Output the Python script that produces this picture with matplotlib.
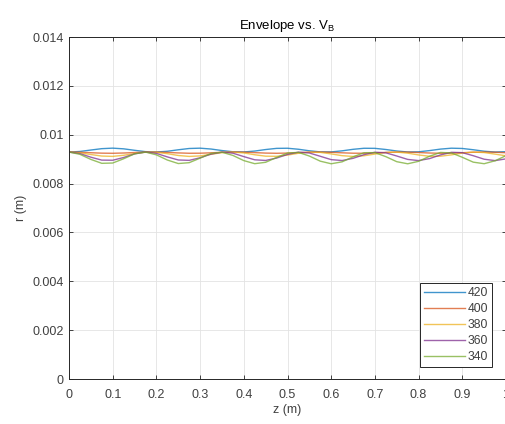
import matplotlib
matplotlib.use("Agg")
import matplotlib.pyplot as plt
from matplotlib.ticker import FormatStrFormatter, MultipleLocator

plt.rcParams["font.family"] = ["Liberation Sans", "DejaVu Sans"]

# ── Data ──────────────────────────────────────────────────────────────── #

z = [0.0, 0.025, 0.05, 0.075, 0.1, 0.125, 0.15, 0.175, 0.2, 0.225,
     0.25, 0.275, 0.3, 0.325, 0.35, 0.375, 0.4, 0.425, 0.45, 0.475,
     0.5, 0.525, 0.55, 0.575, 0.6, 0.625, 0.65, 0.675, 0.7, 0.725,
     0.75, 0.775, 0.8, 0.825, 0.85, 0.875, 0.9, 0.925, 0.95, 0.975, 1.0]

r_420 = [0.009290, 0.009314, 0.009373, 0.009429, 0.009450, 0.009422, 0.009362,
         0.009307, 0.009291, 0.009322, 0.009383, 0.009436, 0.009449, 0.009414,
         0.009352, 0.009302, 0.009293, 0.009331, 0.009393, 0.009441, 0.009446,
         0.009405, 0.009342, 0.009297, 0.009296, 0.009340, 0.009402, 0.009445,
         0.009442, 0.009395, 0.009333, 0.009293, 0.009300, 0.009350, 0.009411,
         0.009448, 0.009437, 0.009385, 0.009324, 0.009291, 0.009306]

r_400 = [0.009290, 0.009282, 0.009263, 0.009245, 0.009240, 0.009251, 0.009271,
         0.009287, 0.009289, 0.009275, 0.009255, 0.009241, 0.009243, 0.009259,
         0.009279, 0.009290, 0.009285, 0.009267, 0.009248, 0.009240, 0.009248,
         0.009267, 0.009285, 0.009290, 0.009279, 0.009259, 0.009243, 0.009241,
         0.009255, 0.009275, 0.009289, 0.009287, 0.009271, 0.009251, 0.009240,
         0.009245, 0.009263, 0.009282, 0.009290, 0.009282, 0.009263]

r_380 = [0.009290, 0.009260, 0.009189, 0.009126, 0.009113, 0.009158, 0.009231,
         0.009284, 0.009280, 0.009223, 0.009150, 0.009111, 0.009132, 0.009198,
         0.009266, 0.009290, 0.009253, 0.009180, 0.009121, 0.009115, 0.009166,
         0.009240, 0.009287, 0.009276, 0.009214, 0.009142, 0.009110, 0.009138,
         0.009208, 0.009272, 0.009288, 0.009245, 0.009172, 0.009117, 0.009119,
         0.009175, 0.009248, 0.009289, 0.009270, 0.009205, 0.009136]

r_360 = [0.009290, 0.009226, 0.009080, 0.008960, 0.008955, 0.009067, 0.009216,
         0.009290, 0.009235, 0.009092, 0.008966, 0.008950, 0.009056, 0.009205,
         0.009288, 0.009244, 0.009104, 0.008973, 0.008946, 0.009044, 0.009194,
         0.009286, 0.009252, 0.009117, 0.008980, 0.008943, 0.009033, 0.009183,
         0.009283, 0.009259, 0.009129, 0.008989, 0.008941, 0.009022, 0.009172,
         0.009279, 0.009266, 0.009141, 0.008997, 0.008940, 0.009012]

r_340 = [0.009290, 0.009197, 0.008989, 0.008829, 0.008841, 0.009015, 0.009217,
         0.009289, 0.009175, 0.008964, 0.008820, 0.008855, 0.009041, 0.009234,
         0.009284, 0.009152, 0.008940, 0.008814, 0.008871, 0.009068, 0.009250,
         0.009277, 0.009127, 0.008917, 0.008811, 0.008890, 0.009094, 0.009263,
         0.009267, 0.009102, 0.008896, 0.008810, 0.008911, 0.009119, 0.009274,
         0.009255, 0.009076, 0.008877, 0.008813, 0.008933, 0.009144]

labels = ["420", "400", "380", "360", "340"]
series = [r_420, r_400, r_380, r_360, r_340]
colors = ["#0072BD", "#D95319", "#EDB120", "#7E2F8E", "#77AC30"]

# ── Plot ───────────────────────────────────────────────────────────────── #

fig = plt.figure(figsize=(5.05, 4.24), dpi=100)
ax = fig.add_axes([69 / 505, 1 - 379 / 424, 437 / 505, 342 / 424])

for vals, lab, c in zip(series, labels, colors):
    ax.plot(z, vals, color=c, linewidth=1.0, alpha=0.75, label=lab)

ax.set_xlim(0, 1)
ax.set_ylim(0, 0.014)
ax.xaxis.set_major_locator(MultipleLocator(0.1))
ax.yaxis.set_major_locator(MultipleLocator(0.002))
ax.xaxis.set_major_formatter(FormatStrFormatter("%g"))
ax.yaxis.set_major_formatter(FormatStrFormatter("%g"))

ax.grid(True, color="#e3e3e3", linewidth=0.6)
ax.set_axisbelow(True)
for s in ax.spines.values():
    s.set_color("#262626")
    s.set_linewidth(0.7)
ax.tick_params(direction="in", length=3, width=0.6, color="#262626",
               labelcolor="#404040", labelsize=9, top=True, right=True)
ax.tick_params(axis="x", pad=7)
ax.tick_params(axis="y", pad=4)

ax.set_xlabel("z (m)", fontsize=9, color="#404040", labelpad=2)
ax.set_ylabel("r (m)", fontsize=9, color="#404040", labelpad=4)
ax.set_title(r"Envelope vs. V$_\mathregular{B}$", fontsize=9.5, color="#000000", pad=6)

leg = ax.legend(loc="lower right", bbox_to_anchor=(0.968, 0.035), borderaxespad=0,
                fontsize=8.7, handlelength=3.4, handletextpad=0.15, labelspacing=0.32,
                fancybox=False, framealpha=1, borderpad=0.35, labelcolor="#404040")
leg.get_frame().set_edgecolor("#262626")
leg.get_frame().set_linewidth(0.7)

fig.savefig("out.png", dpi=100)
